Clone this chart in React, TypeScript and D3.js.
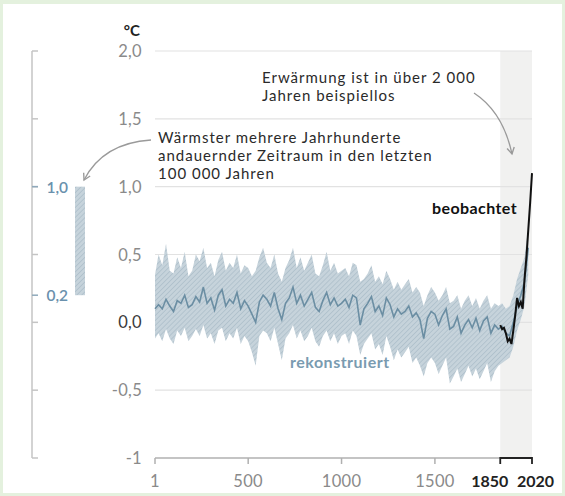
import React from 'react';
import * as d3 from 'd3';

const W = 565;
const H = 496;

// reconstruction, one value every 20 years from year 0 to 2000
const reconStep = 20;
const reconMean = [
  0.10, 0.13, 0.10, 0.17, 0.12, 0.08, 0.16, 0.14, 0.20, 0.11,
  0.13, 0.19, 0.15, 0.26, 0.14, 0.18, 0.09, 0.20, 0.24, 0.12,
  0.17, 0.14, 0.22, 0.10, 0.16, 0.12, 0.06, 0.00, 0.15, 0.20,
  0.17, 0.12, 0.22, 0.10, 0.02, 0.14, 0.18, 0.26, 0.14, 0.20,
  0.12, 0.17, 0.22, 0.11, 0.08, 0.16, 0.22, 0.13, 0.18, 0.12,
  0.14, 0.17, 0.11, 0.20, 0.18, -0.02, 0.10, 0.14, 0.19, 0.08,
  0.12, 0.05, 0.18, 0.13, 0.04, 0.10, 0.06, 0.08, 0.12, 0.04,
  0.07, 0.02, -0.12, 0.03, 0.08, 0.06, -0.02, 0.05, 0.10, -0.05,
  -0.03, 0.04, -0.08, -0.02, 0.02, -0.04, 0.03, -0.06, 0.01, 0.04,
  -0.08, -0.02, -0.05, -0.03, -0.08, -0.10, 0.00, 0.12, 0.20, 0.30,
  0.55,
];
const reconHigh = [
  0.35, 0.50, 0.42, 0.58, 0.38, 0.36, 0.48, 0.40, 0.52, 0.34,
  0.38, 0.50, 0.45, 0.55, 0.40, 0.44, 0.34, 0.46, 0.52, 0.38,
  0.44, 0.40, 0.50, 0.36, 0.42, 0.40, 0.34, 0.38, 0.48, 0.55,
  0.44, 0.40, 0.50, 0.36, 0.30, 0.40, 0.46, 0.55, 0.40, 0.48,
  0.38, 0.44, 0.50, 0.36, 0.34, 0.42, 0.52, 0.38, 0.44, 0.36,
  0.38, 0.40, 0.34, 0.44, 0.42, 0.30, 0.32, 0.36, 0.42, 0.30,
  0.34, 0.28, 0.38, 0.32, 0.24, 0.30, 0.24, 0.28, 0.32, 0.22,
  0.26, 0.22, 0.12, 0.20, 0.26, 0.22, 0.16, 0.20, 0.26, 0.14,
  0.16, 0.20, 0.10, 0.16, 0.20, 0.12, 0.18, 0.10, 0.16, 0.20,
  0.10, 0.14, 0.12, 0.14, 0.10, 0.12, 0.20, 0.32, 0.40, 0.48,
  0.70,
];
const reconLow = [
  -0.12, -0.08, -0.14, -0.05, -0.12, -0.16, -0.06, -0.10, -0.04, -0.14,
  -0.10, -0.05, -0.10, -0.02, -0.12, -0.08, -0.16, -0.06, -0.04, -0.14,
  -0.08, -0.12, -0.04, -0.16, -0.10, -0.14, -0.22, -0.32, -0.10, -0.06,
  -0.08, -0.14, -0.04, -0.16, -0.28, -0.12, -0.08, -0.02, -0.12, -0.06,
  -0.14, -0.10, -0.04, -0.14, -0.18, -0.10, -0.06, -0.14, -0.08, -0.16,
  -0.10, -0.08, -0.16, -0.06, -0.10, -0.24, -0.16, -0.12, -0.08, -0.20,
  -0.16, -0.24, -0.10, -0.18, -0.28, -0.20, -0.26, -0.22, -0.18, -0.30,
  -0.26, -0.32, -0.40, -0.30, -0.26, -0.30, -0.38, -0.32, -0.26, -0.45,
  -0.40, -0.34, -0.44, -0.38, -0.32, -0.40, -0.34, -0.42, -0.36, -0.30,
  -0.44, -0.36, -0.32, -0.30, -0.28, -0.26, -0.18, -0.06, 0.02, 0.12,
  0.35,
];

// observed, decadal
const obsYears = [1850, 1860, 1870, 1880, 1890, 1900, 1910, 1920, 1930, 1940, 1950, 1960, 1970, 1980, 1990, 2000, 2010, 2020];
const obsValues = [-0.02, -0.05, -0.04, -0.08, -0.14, -0.12, -0.16, -0.06, 0.05, 0.18, 0.12, 0.15, 0.10, 0.32, 0.48, 0.68, 0.88, 1.10];

const yTicks = [2, 1.5, 1, 0.5, 0, -0.5, -1];
const yTickLabels = ['2,0', '1,5', '1,0', '0,5', '0,0', '-0,5', '-1'];
const xTicks = [1, 500, 1000, 1500];
const xBracket = [1850, 2020];
const warmRange = [1.0, 0.2];
const warmLabels = ['1,0', '0,2'];

const FONT = 'Lato, "Open Sans", sans-serif';

export default function App() {
  const x = d3.scaleLinear().domain([1, 2020]).range([155, 532]);
  const y = d3.scaleLinear().domain([-1, 2]).range([458, 51]);

  const recon = reconMean.map((m, i) => ({
    year: Math.max(1, i * reconStep),
    mean: m,
    hi: reconHigh[i],
    lo: reconLow[i],
  }));
  const band = d3.area<any>().x(d => x(d.year)).y0(d => y(d.lo)).y1(d => y(d.hi));
  const meanLine = d3.line<any>().x(d => x(d.year)).y(d => y(d.mean));
  const obsLine = d3.line<number>().x((d, i) => x(obsYears[i])).y(d => y(d));

  const axisX0 = 32;

  return (
    <svg width={W} height={H} style={{ position: 'absolute', left: 0, top: 0 }} fontFamily={FONT}>
      <defs>
        <pattern id="hatch" width="3.5" height="3.5" patternUnits="userSpaceOnUse" patternTransform="rotate(45)">
          <rect width="3.5" height="3.5" fill="#c6d3db" />
          <line x1="0" y1="0" x2="0" y2="3.5" stroke="#aabdc8" strokeWidth="1.4" />
        </pattern>
        <marker id="arr" viewBox="0 0 10 10" refX="8" refY="5" markerWidth="7" markerHeight="7" orient="auto">
          <path d="M1,1 L8,5 L1,9" fill="none" stroke="#9a9a9a" strokeWidth="1.5" />
        </marker>
      </defs>

      <rect width={W} height={H} fill="#e4f1de" />
      <rect x={3} y={4} width={559} height={489} fill="#ffffff" />

      {/* recent period shading */}
      <rect x={x(1850)} y={y(2)} width={x(2020) - x(1850)} height={y(-1) - y(2)} fill="#f1f1f0" />

      {/* grid + y labels */}
      {yTicks.map((t, i) => (
        <g key={t}>
          {t > -1 && <line x1={x(1)} x2={x(2020)} y1={y(t)} y2={y(t)} stroke="#e2e2e2" strokeWidth={1.2} />}
          <text x={142} y={y(t) + 6} textAnchor="end" fontSize={16.5} letterSpacing={0.3}
            fill={t === 0 ? '#3a3a3a' : '#8a8a8a'}>{yTickLabels[i]}</text>
        </g>
      ))}
      <text x={140} y={36} textAnchor="end" fontSize={15} fontWeight={700} fill="#222">°C</text>

      {/* x axis */}
      <line x1={x(1)} x2={x(1850)} y1={y(-1)} y2={y(-1)} stroke="#b0b0b0" strokeWidth={1.5} />
      {xTicks.map(t => (
        <g key={t}>
          <line x1={x(t)} x2={x(t)} y1={y(-1)} y2={y(-1) + 6} stroke="#b0b0b0" strokeWidth={1.5} />
          <text x={x(t)} y={487} textAnchor="middle" fontSize={16.5} letterSpacing={0.3} fill="#8a8a8a">{t}</text>
        </g>
      ))}
      <path d={`M${x(xBracket[0])},${y(-1) + 6}V${y(-1)}H${x(xBracket[1])}V${y(-1) + 6}`}
        fill="none" stroke="#222" strokeWidth={1.8} />
      <text x={x(xBracket[0]) + 8} y={487} textAnchor="end" fontSize={16} fontWeight={700} fill="#222">{xBracket[0]}</text>
      <text x={x(xBracket[1]) - 15} y={487} textAnchor="start" fontSize={16} fontWeight={700} fill="#222">{xBracket[1]}</text>

      {/* reconstruction */}
      <path d={band(recon) || ''} fill="url(#hatch)" />
      <path d={meanLine(recon) || ''} fill="none" stroke="#6b8ea3" strokeWidth={1.6} />

      {/* observed */}
      <path d={obsLine(obsValues) || ''} fill="none" stroke="#111" strokeWidth={2} />

      {/* left scale: warmest multi-century period */}
      <line x1={axisX0} x2={axisX0} y1={y(2)} y2={y(-1)} stroke="#c4c4c4" strokeWidth={1.5} />
      {yTicks.map(t => (
        <line key={t} x1={axisX0} x2={axisX0 + 6} y1={y(t)} y2={y(t)} stroke="#c4c4c4" strokeWidth={1.5} />
      ))}
      {warmRange.map((t, i) => (
        <g key={t}>
          <line x1={axisX0} x2={axisX0 + 6} y1={y(t)} y2={y(t)} stroke="#8fa9bb" strokeWidth={1.5} />
          <text x={68} y={y(t) + 6} textAnchor="end" fontSize={15.5} fontWeight={600} fill="#6a91ad">{warmLabels[i]}</text>
        </g>
      ))}
      <rect x={75} y={y(warmRange[0])} width={10} height={y(warmRange[1]) - y(warmRange[0])} fill="url(#hatch)" />

      {/* annotations */}
      <g fontSize={15} letterSpacing={1.0} fill="#2a2a2a">
        <text x={158} y={143}>Wärmster mehrere Jahrhunderte</text>
        <text x={158} y={161}>andauernder Zeitraum in den letzten</text>
        <text x={158} y={179}>100 000 Jahren</text>
        <text x={262} y={83}>Erwärmung ist in über 2 000</text>
        <text x={262} y={101}>Jahren beispiellos</text>
      </g>
      <path d="M151,140 Q103,143 84,180" fill="none" stroke="#9a9a9a" strokeWidth={1.3} markerEnd="url(#arr)" />
      <path d="M474,93 Q503,112 512,154" fill="none" stroke="#9a9a9a" strokeWidth={1.3} markerEnd="url(#arr)" />

      <text x={517} y={214} textAnchor="end" fontSize={16} letterSpacing={0.4} fontWeight={700} fill="#111">beobachtet</text>
      <text x={290} y={368} fontSize={16} letterSpacing={0.5} fontWeight={700} fill="#7a9bb0">rekonstruiert</text>
    </svg>
  );
}
